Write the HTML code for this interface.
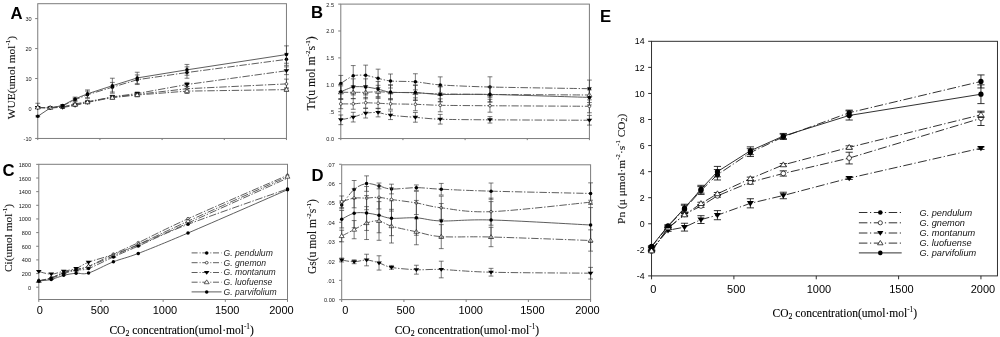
<!DOCTYPE html>
<html><head><meta charset="utf-8"><title>Figure</title>
<style>html,body{margin:0;padding:0;background:#fff;}body{width:1000px;height:337px;overflow:hidden;font-family:"Liberation Sans",sans-serif;}svg{display:block;will-change:transform;}</style></head>
<body>
<svg width="1000" height="337" viewBox="0 0 1000 337">
<rect width="1000" height="337" fill="#fff"/>
<rect x="37.75" y="3.7" width="248.7" height="134.75" fill="none" stroke="#7c7c7c" stroke-width="1"/>
<line x1="35.15" y1="138.45" x2="37.75" y2="138.45" stroke="#7c7c7c" stroke-width="1"/>
<line x1="35.15" y1="108.49" x2="37.75" y2="108.49" stroke="#7c7c7c" stroke-width="1"/>
<line x1="35.15" y1="78.53" x2="37.75" y2="78.53" stroke="#7c7c7c" stroke-width="1"/>
<line x1="35.15" y1="48.57" x2="37.75" y2="48.57" stroke="#7c7c7c" stroke-width="1"/>
<line x1="35.15" y1="18.61" x2="37.75" y2="18.61" stroke="#7c7c7c" stroke-width="1"/>
<line x1="37.75" y1="138.45" x2="37.75" y2="140.05" stroke="#7c7c7c" stroke-width="1"/>
<line x1="99.93" y1="138.45" x2="99.93" y2="140.05" stroke="#7c7c7c" stroke-width="1"/>
<line x1="162.1" y1="138.45" x2="162.1" y2="140.05" stroke="#7c7c7c" stroke-width="1"/>
<line x1="224.28" y1="138.45" x2="224.28" y2="140.05" stroke="#7c7c7c" stroke-width="1"/>
<line x1="286.45" y1="138.45" x2="286.45" y2="140.05" stroke="#7c7c7c" stroke-width="1"/>
<text x="31.6" y="140.95" font-family='"Liberation Sans", sans-serif' font-size="5.55" text-anchor="end" fill="#161616">-10</text>
<text x="31.6" y="110.99" font-family='"Liberation Sans", sans-serif' font-size="5.55" text-anchor="end" fill="#161616">0</text>
<text x="31.6" y="81.03" font-family='"Liberation Sans", sans-serif' font-size="5.55" text-anchor="end" fill="#161616">10</text>
<text x="31.6" y="51.07" font-family='"Liberation Sans", sans-serif' font-size="5.55" text-anchor="end" fill="#161616">20</text>
<text x="31.6" y="21.11" font-family='"Liberation Sans", sans-serif' font-size="5.55" text-anchor="end" fill="#161616">30</text>
<path d="M37.75 107.44 L50.19 107.83 L62.62 105.79 L75.06 99.8 L87.49 94.71 L112.36 87.22 L137.23 79.73 L186.97 72.54 L286.45 59.36" fill="none" stroke="#4c4c4c" stroke-width="0.9" stroke-dasharray="7.4 1.7 1.4 1.7"/>
<path d="M37.75 106.54 V108.34 M35.35 106.54 H40.15 M35.35 108.34 H40.15" fill="none" stroke="#333" stroke-width="0.65"/>
<path d="M62.62 104.89 V106.69 M60.22 104.89 H65.02 M60.22 106.69 H65.02" fill="none" stroke="#333" stroke-width="0.65"/>
<path d="M75.06 98.3 V101.3 M72.66 98.3 H77.46 M72.66 101.3 H77.46" fill="none" stroke="#333" stroke-width="0.65"/>
<path d="M87.49 91.11 V98.3 M85.09 91.11 H89.89 M85.09 98.3 H89.89" fill="none" stroke="#333" stroke-width="0.65"/>
<path d="M112.36 82.42 V92.01 M109.96 82.42 H114.76 M109.96 92.01 H114.76" fill="none" stroke="#333" stroke-width="0.65"/>
<path d="M137.23 74.93 V84.52 M134.83 74.93 H139.63 M134.83 84.52 H139.63" fill="none" stroke="#333" stroke-width="0.65"/>
<path d="M186.97 66.85 V78.23 M184.57 66.85 H189.37 M184.57 78.23 H189.37" fill="none" stroke="#333" stroke-width="0.65"/>
<path d="M286.45 53.36 V65.35 M284.05 53.36 H288.85 M284.05 65.35 H288.85" fill="none" stroke="#333" stroke-width="0.65"/>
<circle cx="37.75" cy="107.44" r="1.75" fill="#000"/>
<circle cx="50.19" cy="107.83" r="1.75" fill="#000"/>
<circle cx="62.62" cy="105.79" r="1.75" fill="#000"/>
<circle cx="75.06" cy="99.8" r="1.75" fill="#000"/>
<circle cx="87.49" cy="94.71" r="1.75" fill="#000"/>
<circle cx="112.36" cy="87.22" r="1.75" fill="#000"/>
<circle cx="137.23" cy="79.73" r="1.75" fill="#000"/>
<circle cx="186.97" cy="72.54" r="1.75" fill="#000"/>
<circle cx="286.45" cy="59.36" r="1.75" fill="#000"/>
<path d="M37.75 107.59 L50.19 107.83 L62.62 106.99 L75.06 104 L87.49 101.6 L112.36 97.11 L137.23 94.41 L186.97 88.72 L286.45 83.92" fill="none" stroke="#4c4c4c" stroke-width="0.9" stroke-dasharray="7.4 1.7 1.4 1.7"/>
<path d="M37.75 106.69 V108.49 M35.35 106.69 H40.15 M35.35 108.49 H40.15" fill="none" stroke="#333" stroke-width="0.65"/>
<path d="M62.62 106.09 V107.89 M60.22 106.09 H65.02 M60.22 107.89 H65.02" fill="none" stroke="#333" stroke-width="0.65"/>
<path d="M75.06 103.1 V104.89 M72.66 103.1 H77.46 M72.66 104.89 H77.46" fill="none" stroke="#333" stroke-width="0.65"/>
<path d="M87.49 100.4 V102.8 M85.09 100.4 H89.89 M85.09 102.8 H89.89" fill="none" stroke="#333" stroke-width="0.65"/>
<path d="M112.36 95.61 V98.6 M109.96 95.61 H114.76 M109.96 98.6 H114.76" fill="none" stroke="#333" stroke-width="0.65"/>
<path d="M137.23 92.91 V95.91 M134.83 92.91 H139.63 M134.83 95.91 H139.63" fill="none" stroke="#333" stroke-width="0.65"/>
<path d="M186.97 86.32 V91.11 M184.57 86.32 H189.37 M184.57 91.11 H189.37" fill="none" stroke="#333" stroke-width="0.65"/>
<path d="M286.45 79.13 V88.72 M284.05 79.13 H288.85 M284.05 88.72 H288.85" fill="none" stroke="#333" stroke-width="0.65"/>
<circle cx="37.75" cy="107.59" r="1.36" fill="#fff" stroke="#000" stroke-width="0.6"/>
<circle cx="50.19" cy="107.83" r="1.36" fill="#fff" stroke="#000" stroke-width="0.6"/>
<circle cx="75.06" cy="104" r="1.36" fill="#fff" stroke="#000" stroke-width="0.6"/>
<circle cx="87.49" cy="101.6" r="1.36" fill="#fff" stroke="#000" stroke-width="0.6"/>
<circle cx="112.36" cy="97.11" r="1.36" fill="#fff" stroke="#000" stroke-width="0.6"/>
<circle cx="137.23" cy="94.41" r="1.36" fill="#fff" stroke="#000" stroke-width="0.6"/>
<circle cx="186.97" cy="88.72" r="1.36" fill="#fff" stroke="#000" stroke-width="0.6"/>
<circle cx="286.45" cy="83.92" r="1.36" fill="#fff" stroke="#000" stroke-width="0.6"/>
<path d="M37.75 107.59 L50.19 107.83 L62.62 107.44 L75.06 105.49 L87.49 102.5 L112.36 96.81 L137.23 93.51 L186.97 84.52 L286.45 70.74" fill="none" stroke="#4c4c4c" stroke-width="0.9" stroke-dasharray="7.4 1.7 1.4 1.7"/>
<path d="M37.75 106.69 V108.49 M35.35 106.69 H40.15 M35.35 108.49 H40.15" fill="none" stroke="#333" stroke-width="0.65"/>
<path d="M62.62 106.54 V108.34 M60.22 106.54 H65.02 M60.22 108.34 H65.02" fill="none" stroke="#333" stroke-width="0.65"/>
<path d="M75.06 104.6 V106.39 M72.66 104.6 H77.46 M72.66 106.39 H77.46" fill="none" stroke="#333" stroke-width="0.65"/>
<path d="M87.49 101.3 V103.7 M85.09 101.3 H89.89 M85.09 103.7 H89.89" fill="none" stroke="#333" stroke-width="0.65"/>
<path d="M112.36 95.31 V98.3 M109.96 95.31 H114.76 M109.96 98.3 H114.76" fill="none" stroke="#333" stroke-width="0.65"/>
<path d="M137.23 92.01 V95.01 M134.83 92.01 H139.63 M134.83 95.01 H139.63" fill="none" stroke="#333" stroke-width="0.65"/>
<path d="M186.97 82.42 V86.62 M184.57 82.42 H189.37 M184.57 86.62 H189.37" fill="none" stroke="#333" stroke-width="0.65"/>
<path d="M286.45 66.85 V74.64 M284.05 66.85 H288.85 M284.05 74.64 H288.85" fill="none" stroke="#333" stroke-width="0.65"/>
<path d="M34.91 106.1 L40.59 106.1 L37.75 109.87Z" fill="#000"/>
<path d="M47.35 106.34 L53.02 106.34 L50.19 110.11Z" fill="#000"/>
<path d="M59.79 105.95 L65.45 105.95 L62.62 109.72Z" fill="#000"/>
<path d="M72.22 104.01 L77.89 104.01 L75.06 107.77Z" fill="#000"/>
<path d="M84.66 101.01 L90.33 101.01 L87.49 104.77Z" fill="#000"/>
<path d="M109.53 95.32 L115.19 95.32 L112.36 99.08Z" fill="#000"/>
<path d="M134.4 92.02 L140.07 92.02 L137.23 95.78Z" fill="#000"/>
<path d="M184.13 83.03 L189.81 83.03 L186.97 86.8Z" fill="#000"/>
<path d="M283.62 69.25 L289.29 69.25 L286.45 73.02Z" fill="#000"/>
<path d="M37.75 107.44 L50.19 107.83 L62.62 107.14 L75.06 104.6 L87.49 102.2 L112.36 97.7 L137.23 95.01 L186.97 91.11 L286.45 89.62" fill="none" stroke="#4c4c4c" stroke-width="0.9" stroke-dasharray="7.4 1.7 1.4 1.7"/>
<path d="M37.75 103.25 V108.34 M35.35 103.25 H40.15 M35.35 108.34 H40.15" fill="none" stroke="#333" stroke-width="0.65"/>
<path d="M62.62 106.24 V108.04 M60.22 106.24 H65.02 M60.22 108.04 H65.02" fill="none" stroke="#333" stroke-width="0.65"/>
<path d="M75.06 103.4 V105.79 M72.66 103.4 H77.46 M72.66 105.79 H77.46" fill="none" stroke="#333" stroke-width="0.65"/>
<path d="M87.49 101 V103.4 M85.09 101 H89.89 M85.09 103.4 H89.89" fill="none" stroke="#333" stroke-width="0.65"/>
<path d="M112.36 96.21 V99.2 M109.96 96.21 H114.76 M109.96 99.2 H114.76" fill="none" stroke="#333" stroke-width="0.65"/>
<path d="M137.23 93.21 V96.81 M134.83 93.21 H139.63 M134.83 96.81 H139.63" fill="none" stroke="#333" stroke-width="0.65"/>
<path d="M186.97 88.72 V93.51 M184.57 88.72 H189.37 M184.57 93.51 H189.37" fill="none" stroke="#333" stroke-width="0.65"/>
<path d="M286.45 87.82 V91.41 M284.05 87.82 H288.85 M284.05 91.41 H288.85" fill="none" stroke="#333" stroke-width="0.65"/>
<path d="M35.27 108.98 L40.23 108.98 L37.75 105.08Z" fill="#fff" stroke="#000" stroke-width="0.6"/>
<path d="M47.7 109.37 L52.67 109.37 L50.19 105.47Z" fill="#fff" stroke="#000" stroke-width="0.6"/>
<path d="M72.57 106.14 L77.54 106.14 L75.06 102.23Z" fill="#fff" stroke="#000" stroke-width="0.6"/>
<path d="M85.01 103.74 L89.98 103.74 L87.49 99.84Z" fill="#fff" stroke="#000" stroke-width="0.6"/>
<path d="M109.88 99.25 L114.84 99.25 L112.36 95.34Z" fill="#fff" stroke="#000" stroke-width="0.6"/>
<path d="M134.75 96.55 L139.72 96.55 L137.23 92.65Z" fill="#fff" stroke="#000" stroke-width="0.6"/>
<path d="M184.48 92.65 L189.46 92.65 L186.97 88.75Z" fill="#fff" stroke="#000" stroke-width="0.6"/>
<path d="M283.97 91.16 L288.94 91.16 L286.45 87.25Z" fill="#fff" stroke="#000" stroke-width="0.6"/>
<path d="M37.75 116.28 L50.19 108.04 L62.62 105.49 L75.06 98.9 L87.49 93.81 L112.36 85.72 L137.23 77.93 L186.97 69.84 L286.45 54.56" fill="none" stroke="#4c4c4c" stroke-width="0.9"/>
<path d="M37.75 115.68 V116.88 M35.35 115.68 H40.15 M35.35 116.88 H40.15" fill="none" stroke="#333" stroke-width="0.65"/>
<path d="M62.62 104.6 V106.39 M60.22 104.6 H65.02 M60.22 106.39 H65.02" fill="none" stroke="#333" stroke-width="0.65"/>
<path d="M75.06 97.11 V100.7 M72.66 97.11 H77.46 M72.66 100.7 H77.46" fill="none" stroke="#333" stroke-width="0.65"/>
<path d="M87.49 89.91 V97.7 M85.09 89.91 H89.89 M85.09 97.7 H89.89" fill="none" stroke="#333" stroke-width="0.65"/>
<path d="M112.36 78.23 V93.21 M109.96 78.23 H114.76 M109.96 93.21 H114.76" fill="none" stroke="#333" stroke-width="0.65"/>
<path d="M137.23 72.24 V83.62 M134.83 72.24 H139.63 M134.83 83.62 H139.63" fill="none" stroke="#333" stroke-width="0.65"/>
<path d="M186.97 64.45 V75.23 M184.57 64.45 H189.37 M184.57 75.23 H189.37" fill="none" stroke="#333" stroke-width="0.65"/>
<path d="M286.45 45.87 V63.25 M284.05 45.87 H288.85 M284.05 63.25 H288.85" fill="none" stroke="#333" stroke-width="0.65"/>
<circle cx="37.75" cy="116.28" r="1.75" fill="#000"/>
<circle cx="62.62" cy="105.49" r="1.75" fill="#000"/>
<circle cx="75.06" cy="98.9" r="1.75" fill="#000"/>
<circle cx="87.49" cy="93.81" r="1.75" fill="#000"/>
<circle cx="112.36" cy="85.72" r="1.75" fill="#000"/>
<circle cx="137.23" cy="77.93" r="1.75" fill="#000"/>
<circle cx="186.97" cy="69.84" r="1.75" fill="#000"/>
<circle cx="286.45" cy="54.56" r="1.75" fill="#000"/>
<rect x="340.8" y="4.1" width="248.6" height="134.45" fill="none" stroke="#7c7c7c" stroke-width="1"/>
<line x1="338.2" y1="138.55" x2="340.8" y2="138.55" stroke="#7c7c7c" stroke-width="1"/>
<line x1="338.2" y1="111.66" x2="340.8" y2="111.66" stroke="#7c7c7c" stroke-width="1"/>
<line x1="338.2" y1="84.77" x2="340.8" y2="84.77" stroke="#7c7c7c" stroke-width="1"/>
<line x1="338.2" y1="57.88" x2="340.8" y2="57.88" stroke="#7c7c7c" stroke-width="1"/>
<line x1="338.2" y1="30.99" x2="340.8" y2="30.99" stroke="#7c7c7c" stroke-width="1"/>
<line x1="338.2" y1="4.1" x2="340.8" y2="4.1" stroke="#7c7c7c" stroke-width="1"/>
<line x1="340.8" y1="138.55" x2="340.8" y2="140.15" stroke="#7c7c7c" stroke-width="1"/>
<line x1="402.95" y1="138.55" x2="402.95" y2="140.15" stroke="#7c7c7c" stroke-width="1"/>
<line x1="465.1" y1="138.55" x2="465.1" y2="140.15" stroke="#7c7c7c" stroke-width="1"/>
<line x1="527.25" y1="138.55" x2="527.25" y2="140.15" stroke="#7c7c7c" stroke-width="1"/>
<line x1="589.4" y1="138.55" x2="589.4" y2="140.15" stroke="#7c7c7c" stroke-width="1"/>
<text x="334" y="141.05" font-family='"Liberation Sans", sans-serif' font-size="5.55" text-anchor="end" fill="#161616">0.0</text>
<text x="334" y="114.16" font-family='"Liberation Sans", sans-serif' font-size="5.55" text-anchor="end" fill="#161616">.5</text>
<text x="334" y="87.27" font-family='"Liberation Sans", sans-serif' font-size="5.55" text-anchor="end" fill="#161616">1.0</text>
<text x="334" y="60.38" font-family='"Liberation Sans", sans-serif' font-size="5.55" text-anchor="end" fill="#161616">1.5</text>
<text x="334" y="33.49" font-family='"Liberation Sans", sans-serif' font-size="5.55" text-anchor="end" fill="#161616">2.0</text>
<text x="334" y="6.6" font-family='"Liberation Sans", sans-serif' font-size="5.55" text-anchor="end" fill="#161616">2.5</text>
<path d="M340.8 83.48 C342.25 82.58 350.33 76.74 353.23 75.79 C356.13 74.84 362.76 75.06 365.66 75.36 C368.56 75.65 375.19 77.66 378.09 78.32 C380.99 78.98 386.17 80.6 390.52 81.01 C394.87 81.41 409.58 81.35 415.38 81.81 C421.18 82.27 431.54 84.32 440.24 84.93 C448.94 85.54 472.56 86.59 489.96 87.03 C507.36 87.47 577.8 88.5 589.4 88.7" fill="none" stroke="#4c4c4c" stroke-width="0.9" stroke-dasharray="7.4 1.7 1.4 1.7"/>
<path d="M340.8 75.41 V91.55 M338.4 75.41 H343.2 M338.4 91.55 H343.2" fill="none" stroke="#333" stroke-width="0.65"/>
<path d="M353.23 65.57 V86.01 M350.83 65.57 H355.63 M350.83 86.01 H355.63" fill="none" stroke="#333" stroke-width="0.65"/>
<path d="M365.66 65.14 V85.58 M363.26 65.14 H368.06 M363.26 85.58 H368.06" fill="none" stroke="#333" stroke-width="0.65"/>
<path d="M378.09 69.17 V87.46 M375.69 69.17 H380.49 M375.69 87.46 H380.49" fill="none" stroke="#333" stroke-width="0.65"/>
<path d="M390.52 74.01 V88 M388.12 74.01 H392.92 M388.12 88 H392.92" fill="none" stroke="#333" stroke-width="0.65"/>
<path d="M415.38 73.75 V89.88 M412.98 73.75 H417.78 M412.98 89.88 H417.78" fill="none" stroke="#333" stroke-width="0.65"/>
<path d="M440.24 76.86 V93 M437.84 76.86 H442.64 M437.84 93 H442.64" fill="none" stroke="#333" stroke-width="0.65"/>
<path d="M489.96 76.81 V97.25 M487.56 76.81 H492.36 M487.56 97.25 H492.36" fill="none" stroke="#333" stroke-width="0.65"/>
<path d="M589.4 80.09 V97.3 M587 80.09 H591.8 M587 97.3 H591.8" fill="none" stroke="#333" stroke-width="0.65"/>
<circle cx="340.8" cy="83.48" r="1.75" fill="#000"/>
<circle cx="353.23" cy="75.79" r="1.75" fill="#000"/>
<circle cx="365.66" cy="75.36" r="1.75" fill="#000"/>
<circle cx="378.09" cy="78.32" r="1.75" fill="#000"/>
<circle cx="390.52" cy="81.01" r="1.75" fill="#000"/>
<circle cx="415.38" cy="81.81" r="1.75" fill="#000"/>
<circle cx="440.24" cy="84.93" r="1.75" fill="#000"/>
<circle cx="489.96" cy="87.03" r="1.75" fill="#000"/>
<circle cx="589.4" cy="88.7" r="1.75" fill="#000"/>
<path d="M340.8 103.86 C342.25 103.86 350.33 103.99 353.23 103.86 C356.13 103.74 362.76 102.86 365.66 102.79 C368.56 102.71 375.19 103.09 378.09 103.22 C380.99 103.34 386.17 103.74 390.52 103.86 C394.87 103.99 409.58 104.12 415.38 104.29 C421.18 104.46 431.54 105.14 440.24 105.31 C448.94 105.48 472.56 105.63 489.96 105.74 C507.36 105.86 577.8 106.22 589.4 106.28" fill="none" stroke="#4c4c4c" stroke-width="0.9" stroke-dasharray="7.4 1.7 1.4 1.7"/>
<path d="M340.8 99.02 V108.7 M338.4 99.02 H343.2 M338.4 108.7 H343.2" fill="none" stroke="#333" stroke-width="0.65"/>
<path d="M353.23 98.48 V109.24 M350.83 98.48 H355.63 M350.83 109.24 H355.63" fill="none" stroke="#333" stroke-width="0.65"/>
<path d="M365.66 97.41 V108.16 M363.26 97.41 H368.06 M363.26 108.16 H368.06" fill="none" stroke="#333" stroke-width="0.65"/>
<path d="M378.09 97.84 V108.59 M375.69 97.84 H380.49 M375.69 108.59 H380.49" fill="none" stroke="#333" stroke-width="0.65"/>
<path d="M390.52 98.48 V109.24 M388.12 98.48 H392.92 M388.12 109.24 H392.92" fill="none" stroke="#333" stroke-width="0.65"/>
<path d="M415.38 97.84 V110.75 M412.98 97.84 H417.78 M412.98 110.75 H417.78" fill="none" stroke="#333" stroke-width="0.65"/>
<path d="M440.24 98.86 V111.77 M437.84 98.86 H442.64 M437.84 111.77 H442.64" fill="none" stroke="#333" stroke-width="0.65"/>
<path d="M489.96 99.29 V112.2 M487.56 99.29 H492.36 M487.56 112.2 H492.36" fill="none" stroke="#333" stroke-width="0.65"/>
<path d="M589.4 99.83 V112.74 M587 99.83 H591.8 M587 112.74 H591.8" fill="none" stroke="#333" stroke-width="0.65"/>
<circle cx="340.8" cy="103.86" r="1.36" fill="#fff" stroke="#000" stroke-width="0.6"/>
<circle cx="353.23" cy="103.86" r="1.36" fill="#fff" stroke="#000" stroke-width="0.6"/>
<circle cx="365.66" cy="102.79" r="1.36" fill="#fff" stroke="#000" stroke-width="0.6"/>
<circle cx="378.09" cy="103.22" r="1.36" fill="#fff" stroke="#000" stroke-width="0.6"/>
<circle cx="390.52" cy="103.86" r="1.36" fill="#fff" stroke="#000" stroke-width="0.6"/>
<circle cx="415.38" cy="104.29" r="1.36" fill="#fff" stroke="#000" stroke-width="0.6"/>
<circle cx="440.24" cy="105.31" r="1.36" fill="#fff" stroke="#000" stroke-width="0.6"/>
<circle cx="489.96" cy="105.74" r="1.36" fill="#fff" stroke="#000" stroke-width="0.6"/>
<circle cx="589.4" cy="106.28" r="1.36" fill="#fff" stroke="#000" stroke-width="0.6"/>
<path d="M340.8 119.83 C342.25 119.52 350.33 117.92 353.23 117.15 C356.13 116.37 362.76 113.7 365.66 113.17 C368.56 112.63 375.19 112.33 378.09 112.57 C380.99 112.82 386.17 114.7 390.52 115.26 C394.87 115.82 409.58 116.9 415.38 117.36 C421.18 117.82 431.54 118.95 440.24 119.24 C448.94 119.53 472.56 119.72 489.96 119.83 C507.36 119.95 577.8 120.21 589.4 120.26" fill="none" stroke="#4c4c4c" stroke-width="0.9" stroke-dasharray="7.4 1.7 1.4 1.7"/>
<path d="M340.8 114.99 V124.67 M338.4 114.99 H343.2 M338.4 124.67 H343.2" fill="none" stroke="#333" stroke-width="0.65"/>
<path d="M353.23 112.31 V121.99 M350.83 112.31 H355.63 M350.83 121.99 H355.63" fill="none" stroke="#333" stroke-width="0.65"/>
<path d="M365.66 108.33 V118.01 M363.26 108.33 H368.06 M363.26 118.01 H368.06" fill="none" stroke="#333" stroke-width="0.65"/>
<path d="M378.09 108.27 V116.88 M375.69 108.27 H380.49 M375.69 116.88 H380.49" fill="none" stroke="#333" stroke-width="0.65"/>
<path d="M390.52 110.96 V119.57 M388.12 110.96 H392.92 M388.12 119.57 H392.92" fill="none" stroke="#333" stroke-width="0.65"/>
<path d="M415.38 112.52 V122.2 M412.98 112.52 H417.78 M412.98 122.2 H417.78" fill="none" stroke="#333" stroke-width="0.65"/>
<path d="M440.24 114.4 V124.08 M437.84 114.4 H442.64 M437.84 124.08 H442.64" fill="none" stroke="#333" stroke-width="0.65"/>
<path d="M489.96 116.61 V123.06 M487.56 116.61 H492.36 M487.56 123.06 H492.36" fill="none" stroke="#333" stroke-width="0.65"/>
<path d="M589.4 115.42 V125.11 M587 115.42 H591.8 M587 125.11 H591.8" fill="none" stroke="#333" stroke-width="0.65"/>
<path d="M337.97 118.35 L343.63 118.35 L340.8 122.11Z" fill="#000"/>
<path d="M350.4 115.66 L356.06 115.66 L353.23 119.42Z" fill="#000"/>
<path d="M362.83 111.68 L368.5 111.68 L365.66 115.44Z" fill="#000"/>
<path d="M375.26 111.09 L380.93 111.09 L378.09 114.85Z" fill="#000"/>
<path d="M387.69 113.78 L393.35 113.78 L390.52 117.54Z" fill="#000"/>
<path d="M412.55 115.87 L418.21 115.87 L415.38 119.64Z" fill="#000"/>
<path d="M437.41 117.76 L443.07 117.76 L440.24 121.52Z" fill="#000"/>
<path d="M487.13 118.35 L492.8 118.35 L489.96 122.11Z" fill="#000"/>
<path d="M586.56 118.78 L592.24 118.78 L589.4 122.54Z" fill="#000"/>
<path d="M340.8 92.3 C342.25 92.3 350.33 92.3 353.23 92.3 C356.13 92.3 362.76 92.36 365.66 92.3 C368.56 92.24 375.19 91.76 378.09 91.76 C380.99 91.76 386.17 92.17 390.52 92.3 C394.87 92.42 409.58 92.65 415.38 92.84 C421.18 93.03 431.54 93.72 440.24 93.91 C448.94 94.1 472.56 94.32 489.96 94.45 C507.36 94.58 577.8 94.93 589.4 94.99" fill="none" stroke="#4c4c4c" stroke-width="0.9" stroke-dasharray="7.4 1.7 1.4 1.7"/>
<path d="M340.8 85.85 V98.75 M338.4 85.85 H343.2 M338.4 98.75 H343.2" fill="none" stroke="#333" stroke-width="0.65"/>
<path d="M353.23 85.85 V98.75 M350.83 85.85 H355.63 M350.83 98.75 H355.63" fill="none" stroke="#333" stroke-width="0.65"/>
<path d="M365.66 85.85 V98.75 M363.26 85.85 H368.06 M363.26 98.75 H368.06" fill="none" stroke="#333" stroke-width="0.65"/>
<path d="M378.09 85.31 V98.22 M375.69 85.31 H380.49 M375.69 98.22 H380.49" fill="none" stroke="#333" stroke-width="0.65"/>
<path d="M390.52 85.31 V99.29 M388.12 85.31 H392.92 M388.12 99.29 H392.92" fill="none" stroke="#333" stroke-width="0.65"/>
<path d="M415.38 85.31 V100.37 M412.98 85.31 H417.78 M412.98 100.37 H417.78" fill="none" stroke="#333" stroke-width="0.65"/>
<path d="M440.24 86.38 V101.44 M437.84 86.38 H442.64 M437.84 101.44 H442.64" fill="none" stroke="#333" stroke-width="0.65"/>
<path d="M489.96 86.92 V101.98 M487.56 86.92 H492.36 M487.56 101.98 H492.36" fill="none" stroke="#333" stroke-width="0.65"/>
<path d="M589.4 87.46 V102.52 M587 87.46 H591.8 M587 102.52 H591.8" fill="none" stroke="#333" stroke-width="0.65"/>
<path d="M338.31 93.84 L343.29 93.84 L340.8 89.94Z" fill="#fff" stroke="#000" stroke-width="0.6"/>
<path d="M350.75 93.84 L355.72 93.84 L353.23 89.94Z" fill="#fff" stroke="#000" stroke-width="0.6"/>
<path d="M363.18 93.84 L368.15 93.84 L365.66 89.94Z" fill="#fff" stroke="#000" stroke-width="0.6"/>
<path d="M375.61 93.3 L380.58 93.3 L378.09 89.4Z" fill="#fff" stroke="#000" stroke-width="0.6"/>
<path d="M388.03 93.84 L393 93.84 L390.52 89.94Z" fill="#fff" stroke="#000" stroke-width="0.6"/>
<path d="M412.89 94.38 L417.87 94.38 L415.38 90.48Z" fill="#fff" stroke="#000" stroke-width="0.6"/>
<path d="M437.75 95.45 L442.73 95.45 L440.24 91.55Z" fill="#fff" stroke="#000" stroke-width="0.6"/>
<path d="M487.48 95.99 L492.45 95.99 L489.96 92.09Z" fill="#fff" stroke="#000" stroke-width="0.6"/>
<path d="M586.91 96.53 L591.88 96.53 L589.4 92.63Z" fill="#fff" stroke="#000" stroke-width="0.6"/>
<path d="M340.8 91.76 C342.25 91.2 350.33 87.49 353.23 86.92 C356.13 86.36 362.76 86.67 365.66 86.92 C368.56 87.17 375.19 88.44 378.09 89.07 C380.99 89.7 386.17 91.89 390.52 92.3 C394.87 92.71 409.58 92.32 415.38 92.57 C421.18 92.82 431.54 94.23 440.24 94.45 C448.94 94.67 472.56 94.11 489.96 94.45 C507.36 94.8 577.8 97.06 589.4 97.41" fill="none" stroke="#4c4c4c" stroke-width="0.9"/>
<path d="M340.8 84.23 V99.29 M338.4 84.23 H343.2 M338.4 99.29 H343.2" fill="none" stroke="#333" stroke-width="0.65"/>
<path d="M353.23 78.85 V94.99 M350.83 78.85 H355.63 M350.83 94.99 H355.63" fill="none" stroke="#333" stroke-width="0.65"/>
<path d="M365.66 78.85 V94.99 M363.26 78.85 H368.06 M363.26 94.99 H368.06" fill="none" stroke="#333" stroke-width="0.65"/>
<path d="M378.09 81.54 V96.6 M375.69 81.54 H380.49 M375.69 96.6 H380.49" fill="none" stroke="#333" stroke-width="0.65"/>
<path d="M390.52 84.77 V99.83 M388.12 84.77 H392.92 M388.12 99.83 H392.92" fill="none" stroke="#333" stroke-width="0.65"/>
<path d="M415.38 85.04 V100.1 M412.98 85.04 H417.78 M412.98 100.1 H417.78" fill="none" stroke="#333" stroke-width="0.65"/>
<path d="M440.24 86.92 V101.98 M437.84 86.92 H442.64 M437.84 101.98 H442.64" fill="none" stroke="#333" stroke-width="0.65"/>
<path d="M489.96 86.92 V101.98 M487.56 86.92 H492.36 M487.56 101.98 H492.36" fill="none" stroke="#333" stroke-width="0.65"/>
<path d="M589.4 89.88 V104.94 M587 89.88 H591.8 M587 104.94 H591.8" fill="none" stroke="#333" stroke-width="0.65"/>
<circle cx="340.8" cy="91.76" r="1.75" fill="#000"/>
<circle cx="353.23" cy="86.92" r="1.75" fill="#000"/>
<circle cx="365.66" cy="86.92" r="1.75" fill="#000"/>
<circle cx="378.09" cy="89.07" r="1.75" fill="#000"/>
<circle cx="390.52" cy="92.3" r="1.75" fill="#000"/>
<circle cx="415.38" cy="92.57" r="1.75" fill="#000"/>
<circle cx="440.24" cy="94.45" r="1.75" fill="#000"/>
<circle cx="489.96" cy="94.45" r="1.75" fill="#000"/>
<circle cx="589.4" cy="97.41" r="1.75" fill="#000"/>
<rect x="38.8" y="164.3" width="248.7" height="135.2" fill="none" stroke="#7c7c7c" stroke-width="1"/>
<line x1="36.2" y1="287.2" x2="38.8" y2="287.2" stroke="#7c7c7c" stroke-width="1"/>
<line x1="36.2" y1="273.55" x2="38.8" y2="273.55" stroke="#7c7c7c" stroke-width="1"/>
<line x1="36.2" y1="259.9" x2="38.8" y2="259.9" stroke="#7c7c7c" stroke-width="1"/>
<line x1="36.2" y1="246.25" x2="38.8" y2="246.25" stroke="#7c7c7c" stroke-width="1"/>
<line x1="36.2" y1="232.6" x2="38.8" y2="232.6" stroke="#7c7c7c" stroke-width="1"/>
<line x1="36.2" y1="218.95" x2="38.8" y2="218.95" stroke="#7c7c7c" stroke-width="1"/>
<line x1="36.2" y1="205.3" x2="38.8" y2="205.3" stroke="#7c7c7c" stroke-width="1"/>
<line x1="36.2" y1="191.65" x2="38.8" y2="191.65" stroke="#7c7c7c" stroke-width="1"/>
<line x1="36.2" y1="178" x2="38.8" y2="178" stroke="#7c7c7c" stroke-width="1"/>
<line x1="36.2" y1="164.35" x2="38.8" y2="164.35" stroke="#7c7c7c" stroke-width="1"/>
<line x1="38.8" y1="299.5" x2="38.8" y2="301.9" stroke="#7c7c7c" stroke-width="1"/>
<line x1="100.97" y1="299.5" x2="100.97" y2="301.9" stroke="#7c7c7c" stroke-width="1"/>
<line x1="163.15" y1="299.5" x2="163.15" y2="301.9" stroke="#7c7c7c" stroke-width="1"/>
<line x1="225.32" y1="299.5" x2="225.32" y2="301.9" stroke="#7c7c7c" stroke-width="1"/>
<line x1="287.5" y1="299.5" x2="287.5" y2="301.9" stroke="#7c7c7c" stroke-width="1"/>
<text x="31" y="289.7" font-family='"Liberation Sans", sans-serif' font-size="5.55" text-anchor="end" fill="#161616">0</text>
<text x="31" y="276.05" font-family='"Liberation Sans", sans-serif' font-size="5.55" text-anchor="end" fill="#161616">200</text>
<text x="31" y="262.4" font-family='"Liberation Sans", sans-serif' font-size="5.55" text-anchor="end" fill="#161616">400</text>
<text x="31" y="248.75" font-family='"Liberation Sans", sans-serif' font-size="5.55" text-anchor="end" fill="#161616">600</text>
<text x="31" y="235.1" font-family='"Liberation Sans", sans-serif' font-size="5.55" text-anchor="end" fill="#161616">800</text>
<text x="31" y="221.45" font-family='"Liberation Sans", sans-serif' font-size="5.55" text-anchor="end" fill="#161616">1000</text>
<text x="31" y="207.8" font-family='"Liberation Sans", sans-serif' font-size="5.55" text-anchor="end" fill="#161616">1200</text>
<text x="31" y="194.15" font-family='"Liberation Sans", sans-serif' font-size="5.55" text-anchor="end" fill="#161616">1400</text>
<text x="31" y="180.5" font-family='"Liberation Sans", sans-serif' font-size="5.55" text-anchor="end" fill="#161616">1600</text>
<text x="31" y="166.85" font-family='"Liberation Sans", sans-serif' font-size="5.55" text-anchor="end" fill="#161616">1800</text>
<path d="M38.8 280.92 C40.87 280.4 47.09 279.17 51.23 277.78 C55.38 276.39 59.53 273.97 63.67 272.59 C67.81 271.22 71.96 270.56 76.1 269.52 C80.25 268.49 82.32 268.95 88.54 266.38 C94.76 263.81 105.12 258.05 113.41 254.1 C121.7 250.15 125.84 248.59 138.28 242.7 C150.72 236.81 163.15 229.98 188.02 218.75 C212.89 207.51 270.92 182.52 287.5 175.27" fill="none" stroke="#4c4c4c" stroke-width="0.9" stroke-dasharray="7.4 1.7 1.4 1.7"/>
<circle cx="38.8" cy="280.92" r="1.36" fill="#fff" stroke="#000" stroke-width="0.6"/>
<circle cx="51.23" cy="277.78" r="1.36" fill="#fff" stroke="#000" stroke-width="0.6"/>
<circle cx="63.67" cy="272.59" r="1.36" fill="#fff" stroke="#000" stroke-width="0.6"/>
<circle cx="76.1" cy="269.52" r="1.36" fill="#fff" stroke="#000" stroke-width="0.6"/>
<circle cx="88.54" cy="266.38" r="1.36" fill="#fff" stroke="#000" stroke-width="0.6"/>
<circle cx="113.41" cy="254.1" r="1.36" fill="#fff" stroke="#000" stroke-width="0.6"/>
<circle cx="138.28" cy="242.7" r="1.36" fill="#fff" stroke="#000" stroke-width="0.6"/>
<circle cx="188.02" cy="218.75" r="1.36" fill="#fff" stroke="#000" stroke-width="0.6"/>
<circle cx="287.5" cy="175.27" r="1.36" fill="#fff" stroke="#000" stroke-width="0.6"/>
<path d="M38.8 280.92 C40.87 280.43 47.09 279.37 51.23 277.99 C55.38 276.6 59.53 274 63.67 272.59 C67.81 271.18 71.96 270.56 76.1 269.52 C80.25 268.49 82.32 268.67 88.54 266.38 C94.76 264.1 105.12 259.44 113.41 255.8 C121.7 252.16 125.84 250.31 138.28 244.54 C150.72 238.78 163.15 232.52 188.02 221.2 C212.89 209.88 270.92 184.06 287.5 176.63" fill="none" stroke="#4c4c4c" stroke-width="0.9" stroke-dasharray="7.4 1.7 1.4 1.7"/>
<path d="M36.31 282.46 L41.28 282.46 L38.8 278.56Z" fill="#fff" stroke="#000" stroke-width="0.6"/>
<path d="M48.75 279.53 L53.72 279.53 L51.23 275.63Z" fill="#fff" stroke="#000" stroke-width="0.6"/>
<path d="M61.19 274.14 L66.16 274.14 L63.67 270.23Z" fill="#fff" stroke="#000" stroke-width="0.6"/>
<path d="M73.62 271.06 L78.59 271.06 L76.1 267.16Z" fill="#fff" stroke="#000" stroke-width="0.6"/>
<path d="M86.05 267.92 L91.02 267.92 L88.54 264.02Z" fill="#fff" stroke="#000" stroke-width="0.6"/>
<path d="M110.92 257.35 L115.89 257.35 L113.41 253.44Z" fill="#fff" stroke="#000" stroke-width="0.6"/>
<path d="M135.79 246.08 L140.77 246.08 L138.28 242.18Z" fill="#fff" stroke="#000" stroke-width="0.6"/>
<path d="M185.53 222.74 L190.5 222.74 L188.02 218.84Z" fill="#fff" stroke="#000" stroke-width="0.6"/>
<path d="M285.01 178.18 L289.99 178.18 L287.5 174.27Z" fill="#fff" stroke="#000" stroke-width="0.6"/>
<path d="M38.8 271.57 C40.87 271.99 47.09 274.16 51.23 274.1 C55.38 274.03 59.53 272.09 63.67 271.16 C67.81 270.23 71.96 269.99 76.1 268.5 C80.25 267.01 82.32 264.56 88.54 262.22 C94.76 259.88 105.12 257.35 113.41 254.44 C121.7 251.53 125.84 249.98 138.28 244.75 C150.72 239.52 163.15 234.15 188.02 223.04 C212.89 211.94 270.92 185.62 287.5 178.14" fill="none" stroke="#4c4c4c" stroke-width="0.9" stroke-dasharray="7.4 1.7 1.4 1.7"/>
<path d="M35.96 270.08 L41.63 270.08 L38.8 273.85Z" fill="#000"/>
<path d="M48.4 272.61 L54.07 272.61 L51.23 276.37Z" fill="#000"/>
<path d="M60.84 269.67 L66.5 269.67 L63.67 273.44Z" fill="#000"/>
<path d="M73.27 267.01 L78.94 267.01 L76.1 270.77Z" fill="#000"/>
<path d="M85.7 260.73 L91.37 260.73 L88.54 264.5Z" fill="#000"/>
<path d="M38.8 280.92 C40.87 280.49 47.09 279.56 51.23 278.33 C55.38 277.1 59.53 274.92 63.67 273.55 C67.81 272.19 71.96 270.98 76.1 270.14 C80.25 269.3 82.32 270.69 88.54 268.5 C94.76 266.3 105.12 260.7 113.41 256.97 C121.7 253.23 125.84 251.55 138.28 246.11 C150.72 240.68 163.15 233.87 188.02 224.34 C212.89 214.81 270.92 194.82 287.5 188.92" fill="none" stroke="#4c4c4c" stroke-width="0.9" stroke-dasharray="7.4 1.7 1.4 1.7"/>
<circle cx="38.8" cy="280.92" r="1.75" fill="#000"/>
<circle cx="51.23" cy="278.33" r="1.75" fill="#000"/>
<circle cx="63.67" cy="273.55" r="1.75" fill="#000"/>
<circle cx="76.1" cy="270.14" r="1.75" fill="#000"/>
<circle cx="88.54" cy="268.5" r="1.75" fill="#000"/>
<circle cx="113.41" cy="256.97" r="1.75" fill="#000"/>
<circle cx="138.28" cy="246.11" r="1.75" fill="#000"/>
<circle cx="188.02" cy="224.34" r="1.75" fill="#000"/>
<circle cx="287.5" cy="188.92" r="1.75" fill="#000"/>
<path d="M38.8 280.92 C40.87 280.68 47.09 280.42 51.23 279.49 C55.38 278.56 59.53 276.37 63.67 275.32 C67.81 274.28 71.96 273.6 76.1 273.21 C80.25 272.82 82.32 274.9 88.54 273 C94.76 271.1 105.12 265.08 113.41 261.81 C121.7 258.55 125.84 258.22 138.28 253.42 C150.72 248.62 163.15 243.62 188.02 233.01 C212.89 222.4 270.92 196.95 287.5 189.74" fill="none" stroke="#4c4c4c" stroke-width="0.9"/>
<circle cx="38.8" cy="280.92" r="1.75" fill="#000"/>
<circle cx="51.23" cy="279.49" r="1.75" fill="#000"/>
<circle cx="63.67" cy="275.32" r="1.75" fill="#000"/>
<circle cx="76.1" cy="273.21" r="1.75" fill="#000"/>
<circle cx="88.54" cy="273" r="1.75" fill="#000"/>
<circle cx="113.41" cy="261.81" r="1.75" fill="#000"/>
<circle cx="138.28" cy="253.42" r="1.75" fill="#000"/>
<circle cx="188.02" cy="233.01" r="1.75" fill="#000"/>
<circle cx="287.5" cy="189.74" r="1.75" fill="#000"/>
<rect x="341.7" y="164.8" width="248.9" height="134.8" fill="none" stroke="#7c7c7c" stroke-width="1"/>
<line x1="339.1" y1="299.7" x2="341.7" y2="299.7" stroke="#7c7c7c" stroke-width="1"/>
<line x1="339.1" y1="280.35" x2="341.7" y2="280.35" stroke="#7c7c7c" stroke-width="1"/>
<line x1="339.1" y1="261" x2="341.7" y2="261" stroke="#7c7c7c" stroke-width="1"/>
<line x1="339.1" y1="241.65" x2="341.7" y2="241.65" stroke="#7c7c7c" stroke-width="1"/>
<line x1="339.1" y1="222.3" x2="341.7" y2="222.3" stroke="#7c7c7c" stroke-width="1"/>
<line x1="339.1" y1="202.95" x2="341.7" y2="202.95" stroke="#7c7c7c" stroke-width="1"/>
<line x1="339.1" y1="183.6" x2="341.7" y2="183.6" stroke="#7c7c7c" stroke-width="1"/>
<line x1="339.1" y1="164.25" x2="341.7" y2="164.25" stroke="#7c7c7c" stroke-width="1"/>
<line x1="341.7" y1="299.6" x2="341.7" y2="302" stroke="#7c7c7c" stroke-width="1"/>
<line x1="403.93" y1="299.6" x2="403.93" y2="302" stroke="#7c7c7c" stroke-width="1"/>
<line x1="466.15" y1="299.6" x2="466.15" y2="302" stroke="#7c7c7c" stroke-width="1"/>
<line x1="528.38" y1="299.6" x2="528.38" y2="302" stroke="#7c7c7c" stroke-width="1"/>
<line x1="590.6" y1="299.6" x2="590.6" y2="302" stroke="#7c7c7c" stroke-width="1"/>
<text x="334.8" y="302.2" font-family='"Liberation Sans", sans-serif' font-size="5.55" text-anchor="end" fill="#161616">0.00</text>
<text x="334.8" y="282.85" font-family='"Liberation Sans", sans-serif' font-size="5.55" text-anchor="end" fill="#161616">.01</text>
<text x="334.8" y="263.5" font-family='"Liberation Sans", sans-serif' font-size="5.55" text-anchor="end" fill="#161616">.02</text>
<text x="334.8" y="244.15" font-family='"Liberation Sans", sans-serif' font-size="5.55" text-anchor="end" fill="#161616">.03</text>
<text x="334.8" y="224.8" font-family='"Liberation Sans", sans-serif' font-size="5.55" text-anchor="end" fill="#161616">.04</text>
<text x="334.8" y="205.45" font-family='"Liberation Sans", sans-serif' font-size="5.55" text-anchor="end" fill="#161616">.05</text>
<text x="334.8" y="186.1" font-family='"Liberation Sans", sans-serif' font-size="5.55" text-anchor="end" fill="#161616">.06</text>
<text x="334.8" y="166.75" font-family='"Liberation Sans", sans-serif' font-size="5.55" text-anchor="end" fill="#161616">.07</text>
<path d="M341.7 204.88 C343.77 202.3 350 192.95 354.14 189.4 C358.29 185.86 362.44 184.18 366.59 183.6 C370.74 183.02 374.89 185.02 379.03 185.92 C383.18 186.82 385.26 188.73 391.48 189.02 C397.7 189.31 408.07 187.63 416.37 187.66 C424.67 187.7 428.81 188.63 441.26 189.21 C453.7 189.79 466.15 190.44 491.04 191.15 C515.93 191.86 574.01 193.08 590.6 193.47" fill="none" stroke="#4c4c4c" stroke-width="0.9" stroke-dasharray="7.4 1.7 1.4 1.7"/>
<path d="M341.7 201.01 V208.75 M339.3 201.01 H344.1 M339.3 208.75 H344.1" fill="none" stroke="#333" stroke-width="0.65"/>
<path d="M354.14 180.5 V198.31 M351.75 180.5 H356.54 M351.75 198.31 H356.54" fill="none" stroke="#333" stroke-width="0.65"/>
<path d="M366.59 175.86 V191.34 M364.19 175.86 H368.99 M364.19 191.34 H368.99" fill="none" stroke="#333" stroke-width="0.65"/>
<path d="M379.03 183.02 V188.82 M376.63 183.02 H381.43 M376.63 188.82 H381.43" fill="none" stroke="#333" stroke-width="0.65"/>
<path d="M391.48 184.18 V193.86 M389.08 184.18 H393.88 M389.08 193.86 H393.88" fill="none" stroke="#333" stroke-width="0.65"/>
<path d="M416.37 184.95 V190.37 M413.97 184.95 H418.77 M413.97 190.37 H418.77" fill="none" stroke="#333" stroke-width="0.65"/>
<path d="M441.26 183.41 V195.02 M438.86 183.41 H443.66 M438.86 195.02 H443.66" fill="none" stroke="#333" stroke-width="0.65"/>
<path d="M491.04 183.02 V199.27 M488.64 183.02 H493.44 M488.64 199.27 H493.44" fill="none" stroke="#333" stroke-width="0.65"/>
<path d="M590.6 182.83 V204.11 M588.2 182.83 H593 M588.2 204.11 H593" fill="none" stroke="#333" stroke-width="0.65"/>
<circle cx="341.7" cy="204.88" r="1.75" fill="#000"/>
<circle cx="354.14" cy="189.4" r="1.75" fill="#000"/>
<circle cx="366.59" cy="183.6" r="1.75" fill="#000"/>
<circle cx="379.03" cy="185.92" r="1.75" fill="#000"/>
<circle cx="391.48" cy="189.02" r="1.75" fill="#000"/>
<circle cx="416.37" cy="187.66" r="1.75" fill="#000"/>
<circle cx="441.26" cy="189.21" r="1.75" fill="#000"/>
<circle cx="491.04" cy="191.15" r="1.75" fill="#000"/>
<circle cx="590.6" cy="193.47" r="1.75" fill="#000"/>
<path d="M341.7 201.79 C343.77 201.18 350 198.73 354.14 198.11 C358.29 197.5 362.44 198.24 366.59 198.11 C370.74 197.98 374.89 197.11 379.03 197.34 C383.18 197.56 385.26 198.53 391.48 199.47 C397.7 200.4 408.07 201.56 416.37 202.95 C424.67 204.34 428.81 206.34 441.26 207.79 C453.7 209.24 466.15 212.59 491.04 211.66 C515.93 210.72 574.01 203.76 590.6 202.18" fill="none" stroke="#4c4c4c" stroke-width="0.9" stroke-dasharray="7.4 1.7 1.4 1.7"/>
<path d="M341.7 195.98 V207.59 M339.3 195.98 H344.1 M339.3 207.59 H344.1" fill="none" stroke="#333" stroke-width="0.65"/>
<path d="M354.14 188.44 V207.79 M351.75 188.44 H356.54 M351.75 207.79 H356.54" fill="none" stroke="#333" stroke-width="0.65"/>
<path d="M366.59 186.5 V209.72 M364.19 186.5 H368.99 M364.19 209.72 H368.99" fill="none" stroke="#333" stroke-width="0.65"/>
<path d="M379.03 185.73 V208.95 M376.63 185.73 H381.43 M376.63 208.95 H381.43" fill="none" stroke="#333" stroke-width="0.65"/>
<path d="M391.48 187.86 V211.08 M389.08 187.86 H393.88 M389.08 211.08 H393.88" fill="none" stroke="#333" stroke-width="0.65"/>
<path d="M416.37 191.34 V214.56 M413.97 191.34 H418.77 M413.97 214.56 H418.77" fill="none" stroke="#333" stroke-width="0.65"/>
<path d="M441.26 196.18 V219.4 M438.86 196.18 H443.66 M438.86 219.4 H443.66" fill="none" stroke="#333" stroke-width="0.65"/>
<path d="M491.04 198.11 V225.2 M488.64 198.11 H493.44 M488.64 225.2 H493.44" fill="none" stroke="#333" stroke-width="0.65"/>
<path d="M590.6 200.24 V204.11 M588.2 200.24 H593 M588.2 204.11 H593" fill="none" stroke="#333" stroke-width="0.65"/>
<circle cx="341.7" cy="201.79" r="1.36" fill="#fff" stroke="#000" stroke-width="0.6"/>
<circle cx="354.14" cy="198.11" r="1.36" fill="#fff" stroke="#000" stroke-width="0.6"/>
<circle cx="366.59" cy="198.11" r="1.36" fill="#fff" stroke="#000" stroke-width="0.6"/>
<circle cx="379.03" cy="197.34" r="1.36" fill="#fff" stroke="#000" stroke-width="0.6"/>
<circle cx="391.48" cy="199.47" r="1.36" fill="#fff" stroke="#000" stroke-width="0.6"/>
<circle cx="416.37" cy="202.95" r="1.36" fill="#fff" stroke="#000" stroke-width="0.6"/>
<circle cx="441.26" cy="207.79" r="1.36" fill="#fff" stroke="#000" stroke-width="0.6"/>
<circle cx="491.04" cy="211.66" r="1.36" fill="#fff" stroke="#000" stroke-width="0.6"/>
<circle cx="590.6" cy="202.18" r="1.36" fill="#fff" stroke="#000" stroke-width="0.6"/>
<path d="M341.7 260.03 C343.77 260.32 350 261.77 354.14 261.77 C358.29 261.77 362.44 259.84 366.59 260.03 C370.74 260.23 374.89 261.71 379.03 262.94 C383.18 264.16 385.26 266.26 391.48 267.39 C397.7 268.51 408.07 269.35 416.37 269.71 C424.67 270.06 428.81 269.09 441.26 269.51 C453.7 269.93 466.15 271.61 491.04 272.22 C515.93 272.84 574.01 273.03 590.6 273.19" fill="none" stroke="#4c4c4c" stroke-width="0.9" stroke-dasharray="7.4 1.7 1.4 1.7"/>
<path d="M341.7 258.1 V261.97 M339.3 258.1 H344.1 M339.3 261.97 H344.1" fill="none" stroke="#333" stroke-width="0.65"/>
<path d="M354.14 259.84 V263.71 M351.75 259.84 H356.54 M351.75 263.71 H356.54" fill="none" stroke="#333" stroke-width="0.65"/>
<path d="M366.59 254.23 V265.84 M364.19 254.23 H368.99 M364.19 265.84 H368.99" fill="none" stroke="#333" stroke-width="0.65"/>
<path d="M379.03 255.78 V270.09 M376.63 255.78 H381.43 M376.63 270.09 H381.43" fill="none" stroke="#333" stroke-width="0.65"/>
<path d="M391.48 265.45 V269.32 M389.08 265.45 H393.88 M389.08 269.32 H393.88" fill="none" stroke="#333" stroke-width="0.65"/>
<path d="M416.37 265.26 V274.16 M413.97 265.26 H418.77 M413.97 274.16 H418.77" fill="none" stroke="#333" stroke-width="0.65"/>
<path d="M441.26 261.19 V277.83 M438.86 261.19 H443.66 M438.86 277.83 H443.66" fill="none" stroke="#333" stroke-width="0.65"/>
<path d="M491.04 268.35 V276.09 M488.64 268.35 H493.44 M488.64 276.09 H493.44" fill="none" stroke="#333" stroke-width="0.65"/>
<path d="M590.6 267.39 V279 M588.2 267.39 H593 M588.2 279 H593" fill="none" stroke="#333" stroke-width="0.65"/>
<path d="M338.87 258.54 L344.53 258.54 L341.7 262.31Z" fill="#000"/>
<path d="M351.31 260.29 L356.98 260.29 L354.14 264.05Z" fill="#000"/>
<path d="M363.75 258.54 L369.42 258.54 L366.59 262.31Z" fill="#000"/>
<path d="M376.2 261.45 L381.87 261.45 L379.03 265.21Z" fill="#000"/>
<path d="M388.65 265.9 L394.31 265.9 L391.48 269.66Z" fill="#000"/>
<path d="M413.54 268.22 L419.2 268.22 L416.37 271.98Z" fill="#000"/>
<path d="M438.43 268.03 L444.09 268.03 L441.26 271.79Z" fill="#000"/>
<path d="M488.2 270.74 L493.87 270.74 L491.04 274.5Z" fill="#000"/>
<path d="M587.76 271.7 L593.44 271.7 L590.6 275.47Z" fill="#000"/>
<path d="M341.7 236.04 C343.77 234.97 350 231.81 354.14 229.65 C358.29 227.49 362.44 224.53 366.59 223.07 C370.74 221.62 374.89 220.43 379.03 220.95 C383.18 221.46 385.26 224.36 391.48 226.17 C397.7 227.98 408.07 230.04 416.37 231.78 C424.67 233.52 428.81 235.75 441.26 236.62 C453.7 237.49 466.15 236.36 491.04 237.01 C515.93 237.65 574.01 239.91 590.6 240.49" fill="none" stroke="#4c4c4c" stroke-width="0.9" stroke-dasharray="7.4 1.7 1.4 1.7"/>
<path d="M341.7 230.23 V241.84 M339.3 230.23 H344.1 M339.3 241.84 H344.1" fill="none" stroke="#333" stroke-width="0.65"/>
<path d="M354.14 220.56 V238.75 M351.75 220.56 H356.54 M351.75 238.75 H356.54" fill="none" stroke="#333" stroke-width="0.65"/>
<path d="M366.59 206.63 V239.52 M364.19 206.63 H368.99 M364.19 239.52 H368.99" fill="none" stroke="#333" stroke-width="0.65"/>
<path d="M379.03 201.6 V240.3 M376.63 201.6 H381.43 M376.63 240.3 H381.43" fill="none" stroke="#333" stroke-width="0.65"/>
<path d="M391.48 209.34 V243 M389.08 209.34 H393.88 M389.08 243 H393.88" fill="none" stroke="#333" stroke-width="0.65"/>
<path d="M416.37 218.82 V244.75 M413.97 218.82 H418.77 M413.97 244.75 H418.77" fill="none" stroke="#333" stroke-width="0.65"/>
<path d="M441.26 224.62 V248.62 M438.86 224.62 H443.66 M438.86 248.62 H443.66" fill="none" stroke="#333" stroke-width="0.65"/>
<path d="M491.04 227.33 V246.68 M488.64 227.33 H493.44 M488.64 246.68 H493.44" fill="none" stroke="#333" stroke-width="0.65"/>
<path d="M590.6 229.85 V251.13 M588.2 229.85 H593 M588.2 251.13 H593" fill="none" stroke="#333" stroke-width="0.65"/>
<path d="M339.21 237.58 L344.19 237.58 L341.7 233.68Z" fill="#fff" stroke="#000" stroke-width="0.6"/>
<path d="M351.66 231.19 L356.63 231.19 L354.14 227.29Z" fill="#fff" stroke="#000" stroke-width="0.6"/>
<path d="M364.1 224.61 L369.07 224.61 L366.59 220.71Z" fill="#fff" stroke="#000" stroke-width="0.6"/>
<path d="M376.55 222.49 L381.52 222.49 L379.03 218.58Z" fill="#fff" stroke="#000" stroke-width="0.6"/>
<path d="M389 227.71 L393.97 227.71 L391.48 223.81Z" fill="#fff" stroke="#000" stroke-width="0.6"/>
<path d="M413.88 233.32 L418.86 233.32 L416.37 229.42Z" fill="#fff" stroke="#000" stroke-width="0.6"/>
<path d="M438.77 238.16 L443.75 238.16 L441.26 234.26Z" fill="#fff" stroke="#000" stroke-width="0.6"/>
<path d="M488.55 238.55 L493.52 238.55 L491.04 234.65Z" fill="#fff" stroke="#000" stroke-width="0.6"/>
<path d="M588.12 242.03 L593.09 242.03 L590.6 238.13Z" fill="#fff" stroke="#000" stroke-width="0.6"/>
<path d="M341.7 219.2 C343.77 218.2 350 214.24 354.14 213.21 C358.29 212.17 362.44 212.66 366.59 213.01 C370.74 213.37 374.89 214.46 379.03 215.33 C383.18 216.2 385.26 217.82 391.48 218.24 C397.7 218.66 408.07 217.4 416.37 217.85 C424.67 218.3 428.81 220.59 441.26 220.95 C453.7 221.3 466.15 219.3 491.04 219.98 C515.93 220.66 574.01 224.17 590.6 225.01" fill="none" stroke="#4c4c4c" stroke-width="0.9"/>
<path d="M341.7 210.5 V227.91 M339.3 210.5 H344.1 M339.3 227.91 H344.1" fill="none" stroke="#333" stroke-width="0.65"/>
<path d="M354.14 198.69 V227.72 M351.75 198.69 H356.54 M351.75 227.72 H356.54" fill="none" stroke="#333" stroke-width="0.65"/>
<path d="M366.59 195.6 V230.43 M364.19 195.6 H368.99 M364.19 230.43 H368.99" fill="none" stroke="#333" stroke-width="0.65"/>
<path d="M379.03 197.92 V232.75 M376.63 197.92 H381.43 M376.63 232.75 H381.43" fill="none" stroke="#333" stroke-width="0.65"/>
<path d="M391.48 200.82 V235.65 M389.08 200.82 H393.88 M389.08 235.65 H393.88" fill="none" stroke="#333" stroke-width="0.65"/>
<path d="M416.37 200.43 V235.26 M413.97 200.43 H418.77 M413.97 235.26 H418.77" fill="none" stroke="#333" stroke-width="0.65"/>
<path d="M441.26 203.53 V238.36 M438.86 203.53 H443.66 M438.86 238.36 H443.66" fill="none" stroke="#333" stroke-width="0.65"/>
<path d="M491.04 201.6 V238.36 M488.64 201.6 H493.44 M488.64 238.36 H493.44" fill="none" stroke="#333" stroke-width="0.65"/>
<path d="M590.6 207.59 V242.42 M588.2 207.59 H593 M588.2 242.42 H593" fill="none" stroke="#333" stroke-width="0.65"/>
<circle cx="341.7" cy="219.2" r="1.75" fill="#000"/>
<circle cx="354.14" cy="213.21" r="1.75" fill="#000"/>
<circle cx="366.59" cy="213.01" r="1.75" fill="#000"/>
<circle cx="379.03" cy="215.33" r="1.75" fill="#000"/>
<circle cx="391.48" cy="218.24" r="1.75" fill="#000"/>
<circle cx="416.37" cy="217.85" r="1.75" fill="#000"/>
<circle cx="441.26" cy="220.95" r="1.75" fill="#000"/>
<circle cx="491.04" cy="219.98" r="1.75" fill="#000"/>
<circle cx="590.6" cy="225.01" r="1.75" fill="#000"/>
<rect x="651.55" y="41.3" width="345.9" height="234.6" fill="none" stroke="#262626" stroke-width="0.95"/>
<line x1="648.15" y1="275.9" x2="651.55" y2="275.9" stroke="#262626" stroke-width="0.95"/>
<line x1="648.15" y1="249.83" x2="651.55" y2="249.83" stroke="#262626" stroke-width="0.95"/>
<line x1="648.15" y1="223.77" x2="651.55" y2="223.77" stroke="#262626" stroke-width="0.95"/>
<line x1="648.15" y1="197.7" x2="651.55" y2="197.7" stroke="#262626" stroke-width="0.95"/>
<line x1="648.15" y1="171.64" x2="651.55" y2="171.64" stroke="#262626" stroke-width="0.95"/>
<line x1="648.15" y1="145.57" x2="651.55" y2="145.57" stroke="#262626" stroke-width="0.95"/>
<line x1="648.15" y1="119.5" x2="651.55" y2="119.5" stroke="#262626" stroke-width="0.95"/>
<line x1="648.15" y1="93.44" x2="651.55" y2="93.44" stroke="#262626" stroke-width="0.95"/>
<line x1="648.15" y1="67.37" x2="651.55" y2="67.37" stroke="#262626" stroke-width="0.95"/>
<line x1="648.15" y1="41.31" x2="651.55" y2="41.31" stroke="#262626" stroke-width="0.95"/>
<line x1="651.55" y1="275.9" x2="651.55" y2="279.3" stroke="#262626" stroke-width="0.95"/>
<line x1="733.9" y1="275.9" x2="733.9" y2="279.3" stroke="#262626" stroke-width="0.95"/>
<line x1="816.25" y1="275.9" x2="816.25" y2="279.3" stroke="#262626" stroke-width="0.95"/>
<line x1="898.6" y1="275.9" x2="898.6" y2="279.3" stroke="#262626" stroke-width="0.95"/>
<line x1="980.95" y1="275.9" x2="980.95" y2="279.3" stroke="#262626" stroke-width="0.95"/>
<text x="644.6" y="279.07" font-family='"Liberation Sans", sans-serif' font-size="8.8" text-anchor="end" fill="#000">-4</text>
<text x="644.6" y="253" font-family='"Liberation Sans", sans-serif' font-size="8.8" text-anchor="end" fill="#000">-2</text>
<text x="644.6" y="226.94" font-family='"Liberation Sans", sans-serif' font-size="8.8" text-anchor="end" fill="#000">0</text>
<text x="644.6" y="200.87" font-family='"Liberation Sans", sans-serif' font-size="8.8" text-anchor="end" fill="#000">2</text>
<text x="644.6" y="174.8" font-family='"Liberation Sans", sans-serif' font-size="8.8" text-anchor="end" fill="#000">4</text>
<text x="644.6" y="148.74" font-family='"Liberation Sans", sans-serif' font-size="8.8" text-anchor="end" fill="#000">6</text>
<text x="644.6" y="122.67" font-family='"Liberation Sans", sans-serif' font-size="8.8" text-anchor="end" fill="#000">8</text>
<text x="644.6" y="96.61" font-family='"Liberation Sans", sans-serif' font-size="8.8" text-anchor="end" fill="#000">10</text>
<text x="644.6" y="70.54" font-family='"Liberation Sans", sans-serif' font-size="8.8" text-anchor="end" fill="#000">12</text>
<text x="644.6" y="44.47" font-family='"Liberation Sans", sans-serif' font-size="8.8" text-anchor="end" fill="#000">14</text>
<path d="M651.55 246.97 L668.02 226.37 L684.49 209.17 L700.96 190.53 L717.43 174.76 L750.37 152.61 L783.31 136.84 L849.19 112.73 L980.95 81.45" fill="none" stroke="#1a1a1a" stroke-width="0.9" stroke-dasharray="9 2.4 1.2 2.4"/>
<path d="M651.55 246.32 V247.62 M647.95 246.32 H655.15 M647.95 247.62 H655.15" fill="none" stroke="#111" stroke-width="0.85"/>
<path d="M668.02 225.33 V227.42 M664.42 225.33 H671.62 M664.42 227.42 H671.62" fill="none" stroke="#111" stroke-width="0.85"/>
<path d="M684.49 205.26 V213.08 M680.89 205.26 H688.09 M680.89 213.08 H688.09" fill="none" stroke="#111" stroke-width="0.85"/>
<path d="M700.96 186.62 V194.44 M697.36 186.62 H704.56 M697.36 194.44 H704.56" fill="none" stroke="#111" stroke-width="0.85"/>
<path d="M717.43 169.55 V179.98 M713.83 169.55 H721.03 M713.83 179.98 H721.03" fill="none" stroke="#111" stroke-width="0.85"/>
<path d="M750.37 148.7 V156.52 M746.77 148.7 H753.97 M746.77 156.52 H753.97" fill="none" stroke="#111" stroke-width="0.85"/>
<path d="M783.31 134.23 V139.44 M779.71 134.23 H786.91 M779.71 139.44 H786.91" fill="none" stroke="#111" stroke-width="0.85"/>
<path d="M849.19 110.12 V115.33 M845.59 110.12 H852.79 M845.59 115.33 H852.79" fill="none" stroke="#111" stroke-width="0.85"/>
<path d="M980.95 74.93 V87.96 M977.35 74.93 H984.55 M977.35 87.96 H984.55" fill="none" stroke="#111" stroke-width="0.85"/>
<circle cx="651.55" cy="246.97" r="2.6" fill="#000"/>
<circle cx="668.02" cy="226.37" r="2.6" fill="#000"/>
<circle cx="684.49" cy="209.17" r="2.6" fill="#000"/>
<circle cx="700.96" cy="190.53" r="2.6" fill="#000"/>
<circle cx="717.43" cy="174.76" r="2.6" fill="#000"/>
<circle cx="750.37" cy="152.61" r="2.6" fill="#000"/>
<circle cx="783.31" cy="136.84" r="2.6" fill="#000"/>
<circle cx="849.19" cy="112.73" r="2.6" fill="#000"/>
<circle cx="980.95" cy="81.45" r="2.6" fill="#000"/>
<path d="M651.55 251.14 L668.02 228.46 L684.49 214.38 L700.96 206.04 L717.43 195.88 L750.37 182.19 L783.31 173.46 L849.19 158.08 L980.95 118.33" fill="none" stroke="#1a1a1a" stroke-width="0.9" stroke-dasharray="9 2.4 1.2 2.4"/>
<path d="M651.55 250.49 V251.79 M647.95 250.49 H655.15 M647.95 251.79 H655.15" fill="none" stroke="#111" stroke-width="0.85"/>
<path d="M668.02 227.42 V229.5 M664.42 227.42 H671.62 M664.42 229.5 H671.62" fill="none" stroke="#111" stroke-width="0.85"/>
<path d="M684.49 213.08 V215.69 M680.89 213.08 H688.09 M680.89 215.69 H688.09" fill="none" stroke="#111" stroke-width="0.85"/>
<path d="M700.96 204.74 V207.35 M697.36 204.74 H704.56 M697.36 207.35 H704.56" fill="none" stroke="#111" stroke-width="0.85"/>
<path d="M717.43 194.57 V197.18 M713.83 194.57 H721.03 M713.83 197.18 H721.03" fill="none" stroke="#111" stroke-width="0.85"/>
<path d="M750.37 180.24 V184.15 M746.77 180.24 H753.97 M746.77 184.15 H753.97" fill="none" stroke="#111" stroke-width="0.85"/>
<path d="M783.31 170.85 V176.07 M779.71 170.85 H786.91 M779.71 176.07 H786.91" fill="none" stroke="#111" stroke-width="0.85"/>
<path d="M849.19 152.22 V163.95 M845.59 152.22 H852.79 M845.59 163.95 H852.79" fill="none" stroke="#111" stroke-width="0.85"/>
<path d="M980.95 111.16 V125.5 M977.35 111.16 H984.55 M977.35 125.5 H984.55" fill="none" stroke="#111" stroke-width="0.85"/>
<circle cx="651.55" cy="251.14" r="2.34" fill="#fff" stroke="#000" stroke-width="0.7"/>
<circle cx="668.02" cy="228.46" r="2.34" fill="#fff" stroke="#000" stroke-width="0.7"/>
<circle cx="684.49" cy="214.38" r="2.34" fill="#fff" stroke="#000" stroke-width="0.7"/>
<circle cx="700.96" cy="206.04" r="2.34" fill="#fff" stroke="#000" stroke-width="0.7"/>
<circle cx="717.43" cy="195.88" r="2.34" fill="#fff" stroke="#000" stroke-width="0.7"/>
<circle cx="750.37" cy="182.19" r="2.34" fill="#fff" stroke="#000" stroke-width="0.7"/>
<circle cx="783.31" cy="173.46" r="2.34" fill="#fff" stroke="#000" stroke-width="0.7"/>
<circle cx="849.19" cy="158.08" r="2.34" fill="#fff" stroke="#000" stroke-width="0.7"/>
<circle cx="980.95" cy="118.33" r="2.34" fill="#fff" stroke="#000" stroke-width="0.7"/>
<path d="M651.55 249.83 L668.02 230.28 L684.49 227.16 L700.96 219.6 L717.43 215.17 L750.37 203.31 L783.31 195.49 L849.19 178.15 L980.95 148.18" fill="none" stroke="#1a1a1a" stroke-width="0.9" stroke-dasharray="9 2.4 1.2 2.4"/>
<path d="M651.55 249.18 V250.49 M647.95 249.18 H655.15 M647.95 250.49 H655.15" fill="none" stroke="#111" stroke-width="0.85"/>
<path d="M668.02 229.24 V231.33 M664.42 229.24 H671.62 M664.42 231.33 H671.62" fill="none" stroke="#111" stroke-width="0.85"/>
<path d="M684.49 223.25 V231.07 M680.89 223.25 H688.09 M680.89 231.07 H688.09" fill="none" stroke="#111" stroke-width="0.85"/>
<path d="M700.96 215.69 V223.51 M697.36 215.69 H704.56 M697.36 223.51 H704.56" fill="none" stroke="#111" stroke-width="0.85"/>
<path d="M717.43 210.6 V219.73 M713.83 210.6 H721.03 M713.83 219.73 H721.03" fill="none" stroke="#111" stroke-width="0.85"/>
<path d="M750.37 198.74 V207.87 M746.77 198.74 H753.97 M746.77 207.87 H753.97" fill="none" stroke="#111" stroke-width="0.85"/>
<path d="M783.31 192.23 V198.74 M779.71 192.23 H786.91 M779.71 198.74 H786.91" fill="none" stroke="#111" stroke-width="0.85"/>
<path d="M849.19 176.85 V179.46 M845.59 176.85 H852.79 M845.59 179.46 H852.79" fill="none" stroke="#111" stroke-width="0.85"/>
<path d="M980.95 146.87 V149.48 M977.35 146.87 H984.55 M977.35 149.48 H984.55" fill="none" stroke="#111" stroke-width="0.85"/>
<path d="M648.04 247.62 L655.06 247.62 L651.55 252.95Z" fill="#000"/>
<path d="M664.51 228.07 L671.53 228.07 L668.02 233.4Z" fill="#000"/>
<path d="M680.98 224.95 L688 224.95 L684.49 230.28Z" fill="#000"/>
<path d="M697.45 217.39 L704.47 217.39 L700.96 222.72Z" fill="#000"/>
<path d="M713.92 212.96 L720.94 212.96 L717.43 218.29Z" fill="#000"/>
<path d="M746.86 201.1 L753.88 201.1 L750.37 206.43Z" fill="#000"/>
<path d="M779.8 193.28 L786.82 193.28 L783.31 198.61Z" fill="#000"/>
<path d="M845.68 175.94 L852.7 175.94 L849.19 181.27Z" fill="#000"/>
<path d="M977.44 145.97 L984.46 145.97 L980.95 151.3Z" fill="#000"/>
<path d="M651.55 250.88 L668.02 227.94 L684.49 214.91 L700.96 203.57 L717.43 193.79 L750.37 178.67 L783.31 164.86 L849.19 147.39 L980.95 114.81" fill="none" stroke="#1a1a1a" stroke-width="0.9" stroke-dasharray="9 2.4 1.2 2.4"/>
<path d="M651.55 250.22 V251.53 M647.95 250.22 H655.15 M647.95 251.53 H655.15" fill="none" stroke="#111" stroke-width="0.85"/>
<path d="M668.02 226.9 V228.98 M664.42 226.9 H671.62 M664.42 228.98 H671.62" fill="none" stroke="#111" stroke-width="0.85"/>
<path d="M684.49 213.6 V216.21 M680.89 213.6 H688.09 M680.89 216.21 H688.09" fill="none" stroke="#111" stroke-width="0.85"/>
<path d="M700.96 202.26 V204.87 M697.36 202.26 H704.56 M697.36 204.87 H704.56" fill="none" stroke="#111" stroke-width="0.85"/>
<path d="M717.43 192.49 V195.1 M713.83 192.49 H721.03 M713.83 195.1 H721.03" fill="none" stroke="#111" stroke-width="0.85"/>
<path d="M750.37 177.11 V180.24 M746.77 177.11 H753.97 M746.77 180.24 H753.97" fill="none" stroke="#111" stroke-width="0.85"/>
<path d="M783.31 163.56 V166.16 M779.71 163.56 H786.91 M779.71 166.16 H786.91" fill="none" stroke="#111" stroke-width="0.85"/>
<path d="M849.19 145.83 V148.96 M845.59 145.83 H852.79 M845.59 148.96 H852.79" fill="none" stroke="#111" stroke-width="0.85"/>
<path d="M980.95 112.21 V117.42 M977.35 112.21 H984.55 M977.35 117.42 H984.55" fill="none" stroke="#111" stroke-width="0.85"/>
<path d="M648.43 252.81 L654.67 252.81 L651.55 247.91Z" fill="#fff" stroke="#000" stroke-width="0.7"/>
<path d="M664.9 229.87 L671.14 229.87 L668.02 224.97Z" fill="#fff" stroke="#000" stroke-width="0.7"/>
<path d="M681.37 216.84 L687.61 216.84 L684.49 211.94Z" fill="#fff" stroke="#000" stroke-width="0.7"/>
<path d="M697.84 205.5 L704.08 205.5 L700.96 200.6Z" fill="#fff" stroke="#000" stroke-width="0.7"/>
<path d="M714.31 195.73 L720.55 195.73 L717.43 190.83Z" fill="#fff" stroke="#000" stroke-width="0.7"/>
<path d="M747.25 180.61 L753.49 180.61 L750.37 175.71Z" fill="#fff" stroke="#000" stroke-width="0.7"/>
<path d="M780.19 166.79 L786.43 166.79 L783.31 161.89Z" fill="#fff" stroke="#000" stroke-width="0.7"/>
<path d="M846.07 149.33 L852.31 149.33 L849.19 144.43Z" fill="#fff" stroke="#000" stroke-width="0.7"/>
<path d="M977.83 116.75 L984.07 116.75 L980.95 111.85Z" fill="#fff" stroke="#000" stroke-width="0.7"/>
<path d="M651.55 246.45 L668.02 225.85 L684.49 208.13 L700.96 189.23 L717.43 171.64 L750.37 150.78 L783.31 136.06 L849.19 115.46 L980.95 94.22" fill="none" stroke="#1a1a1a" stroke-width="0.9"/>
<path d="M651.55 245.79 V247.1 M647.95 245.79 H655.15 M647.95 247.1 H655.15" fill="none" stroke="#111" stroke-width="0.85"/>
<path d="M668.02 224.81 V226.9 M664.42 224.81 H671.62 M664.42 226.9 H671.62" fill="none" stroke="#111" stroke-width="0.85"/>
<path d="M684.49 204.22 V212.04 M680.89 204.22 H688.09 M680.89 212.04 H688.09" fill="none" stroke="#111" stroke-width="0.85"/>
<path d="M700.96 185.32 V193.14 M697.36 185.32 H704.56 M697.36 193.14 H704.56" fill="none" stroke="#111" stroke-width="0.85"/>
<path d="M717.43 166.42 V176.85 M713.83 166.42 H721.03 M713.83 176.85 H721.03" fill="none" stroke="#111" stroke-width="0.85"/>
<path d="M750.37 146.87 V154.69 M746.77 146.87 H753.97 M746.77 154.69 H753.97" fill="none" stroke="#111" stroke-width="0.85"/>
<path d="M783.31 133.45 V138.66 M779.71 133.45 H786.91 M779.71 138.66 H786.91" fill="none" stroke="#111" stroke-width="0.85"/>
<path d="M849.19 110.9 V120.03 M845.59 110.9 H852.79 M845.59 120.03 H852.79" fill="none" stroke="#111" stroke-width="0.85"/>
<path d="M980.95 84.84 V103.6 M977.35 84.84 H984.55 M977.35 103.6 H984.55" fill="none" stroke="#111" stroke-width="0.85"/>
<circle cx="651.55" cy="246.45" r="2.6" fill="#000"/>
<circle cx="668.02" cy="225.85" r="2.6" fill="#000"/>
<circle cx="684.49" cy="208.13" r="2.6" fill="#000"/>
<circle cx="700.96" cy="189.23" r="2.6" fill="#000"/>
<circle cx="717.43" cy="171.64" r="2.6" fill="#000"/>
<circle cx="750.37" cy="150.78" r="2.6" fill="#000"/>
<circle cx="783.31" cy="136.06" r="2.6" fill="#000"/>
<circle cx="849.19" cy="115.46" r="2.6" fill="#000"/>
<circle cx="980.95" cy="94.22" r="2.6" fill="#000"/>
<text x="10.5" y="18.7" font-family='"Liberation Sans", sans-serif' font-weight="bold" font-size="16.7" fill="#000">A</text>
<text x="311" y="18.3" font-family='"Liberation Sans", sans-serif' font-weight="bold" font-size="16.7" fill="#000">B</text>
<text x="2.6" y="175.7" font-family='"Liberation Sans", sans-serif' font-weight="bold" font-size="16.7" fill="#000">C</text>
<text x="311.4" y="180.6" font-family='"Liberation Sans", sans-serif' font-weight="bold" font-size="16.7" fill="#000">D</text>
<text x="600" y="22" font-family='"Liberation Sans", sans-serif' font-weight="bold" font-size="16.7" fill="#000">E</text>
<text x="39.8" y="314.3" font-family='"Liberation Sans", sans-serif' font-size="11" text-anchor="middle" fill="#000">0</text>
<text x="100" y="314.3" font-family='"Liberation Sans", sans-serif' font-size="11" text-anchor="middle" fill="#000">500</text>
<text x="165" y="314.3" font-family='"Liberation Sans", sans-serif' font-size="11" text-anchor="middle" fill="#000">1000</text>
<text x="227.2" y="314.3" font-family='"Liberation Sans", sans-serif' font-size="11" text-anchor="middle" fill="#000">1500</text>
<text x="281.4" y="314.3" font-family='"Liberation Sans", sans-serif' font-size="11" text-anchor="middle" fill="#000">2000</text>
<text x="345.4" y="314.3" font-family='"Liberation Sans", sans-serif' font-size="11" text-anchor="middle" fill="#000">0</text>
<text x="405.6" y="314.3" font-family='"Liberation Sans", sans-serif' font-size="11" text-anchor="middle" fill="#000">500</text>
<text x="470.7" y="314.3" font-family='"Liberation Sans", sans-serif' font-size="11" text-anchor="middle" fill="#000">1000</text>
<text x="532.4" y="314.3" font-family='"Liberation Sans", sans-serif' font-size="11" text-anchor="middle" fill="#000">1500</text>
<text x="587.4" y="314.3" font-family='"Liberation Sans", sans-serif' font-size="11" text-anchor="middle" fill="#000">2000</text>
<text x="653.2" y="293" font-family='"Liberation Sans", sans-serif' font-size="11" text-anchor="middle" fill="#000">0</text>
<text x="736.2" y="293" font-family='"Liberation Sans", sans-serif' font-size="11" text-anchor="middle" fill="#000">500</text>
<text x="819" y="293" font-family='"Liberation Sans", sans-serif' font-size="11" text-anchor="middle" fill="#000">1000</text>
<text x="901.5" y="293" font-family='"Liberation Sans", sans-serif' font-size="11" text-anchor="middle" fill="#000">1500</text>
<text x="983" y="293" font-family='"Liberation Sans", sans-serif' font-size="11" text-anchor="middle" fill="#000">2000</text>
<text x="109.4" y="333.8" font-family='"Liberation Serif", serif' font-size="11.5" fill="#000" stroke="#000" stroke-width="0.1">CO<tspan font-size="7.82" dy="2.07">2</tspan><tspan dy="-2.07"> concentration(umol·mol<tspan font-size="7.25" dy="-5.06">-1</tspan><tspan dy="5.06">)</tspan></tspan></text>
<text x="394.7" y="333.8" font-family='"Liberation Serif", serif' font-size="11.5" fill="#000" stroke="#000" stroke-width="0.1">CO<tspan font-size="7.82" dy="2.07">2</tspan><tspan dy="-2.07"> concentration(umol·mol<tspan font-size="7.25" dy="-5.06">-1</tspan><tspan dy="5.06">)</tspan></tspan></text>
<text x="772.6" y="317.4" font-family='"Liberation Serif", serif' font-size="11.5" fill="#000" stroke="#000" stroke-width="0.1">CO<tspan font-size="7.82" dy="2.07">2</tspan><tspan dy="-2.07"> concentration(umol·mol<tspan font-size="7.25" dy="-5.06">-1</tspan><tspan dy="5.06">)</tspan></tspan></text>
<text transform="translate(15.2 119.3) rotate(-90)" font-family='"Liberation Serif", serif' font-size="11.4" fill="#111" stroke="#111" stroke-width="0.1">WUE(umol mol<tspan font-size="7.01" dy="-4.75">-1</tspan><tspan dy="4.75">)</tspan></text>
<text transform="translate(314.8 110.4) rotate(-90)" font-family='"Liberation Serif", serif' font-size="11.8" fill="#111" stroke="#111" stroke-width="0.1">Tr(u mol m<tspan font-size="7.01" dy="-4.75">-2</tspan><tspan dy="4.75">s<tspan font-size="7.01" dy="-4.75">-1</tspan><tspan dy="4.75">)</tspan></tspan></text>
<text transform="translate(11.8 272.1) rotate(-90)" font-family='"Liberation Serif", serif' font-size="11.4" fill="#111" stroke="#111" stroke-width="0.1">Ci(umol mol<tspan font-size="7.01" dy="-4.75">-1</tspan><tspan dy="4.75">)</tspan></text>
<text transform="translate(315.8 274) rotate(-90)" font-family='"Liberation Serif", serif' font-size="11.5" fill="#111" stroke="#111" stroke-width="0.1">Gs(u mol m<tspan font-size="7.01" dy="-4.75">-2</tspan><tspan dy="4.75">s<tspan font-size="7.01" dy="-4.75">-1</tspan><tspan dy="4.75">)</tspan></tspan></text>
<text transform="translate(625.2 223.9) rotate(-90)" font-family='"Liberation Serif", serif' font-size="11.4" fill="#111" stroke="#111" stroke-width="0.1">Pn (μ μmol·m<tspan font-size="6.84" dy="-4.79">-2</tspan><tspan dy="4.79">·s<tspan font-size="6.84" dy="-4.79">-1</tspan><tspan dy="4.79"> CO<tspan font-size="7.75" dy="2.05">2</tspan><tspan dy="-2.05">)</tspan></tspan></tspan></text>
<line x1="191.6" y1="252.9" x2="221.6" y2="252.9" stroke="#4c4c4c" stroke-width="0.9" stroke-dasharray="6 2 1 1.7"/>
<circle cx="206.7" cy="252.9" r="1.75" fill="#000"/>
<text x="223.6" y="255.82" font-family='"Liberation Sans", sans-serif' font-style="italic" font-size="8.6" fill="#222">G. pendulum</text>
<line x1="191.6" y1="262.7" x2="221.6" y2="262.7" stroke="#4c4c4c" stroke-width="0.9" stroke-dasharray="6 2 1 1.7"/>
<circle cx="206.7" cy="262.7" r="1.36" fill="#fff" stroke="#000" stroke-width="0.6"/>
<text x="223.6" y="265.62" font-family='"Liberation Sans", sans-serif' font-style="italic" font-size="8.6" fill="#222">G. gnemon</text>
<line x1="191.6" y1="272.5" x2="221.6" y2="272.5" stroke="#4c4c4c" stroke-width="0.9" stroke-dasharray="6 2 1 1.7"/>
<path d="M203.86 271.01 L209.53 271.01 L206.7 274.77Z" fill="#000"/>
<text x="223.6" y="275.42" font-family='"Liberation Sans", sans-serif' font-style="italic" font-size="8.6" fill="#222">G. montanum</text>
<line x1="191.6" y1="282.2" x2="221.6" y2="282.2" stroke="#4c4c4c" stroke-width="0.9" stroke-dasharray="6 2 1 1.7"/>
<path d="M204.21 283.74 L209.19 283.74 L206.7 279.84Z" fill="#fff" stroke="#000" stroke-width="0.6"/>
<text x="223.6" y="285.12" font-family='"Liberation Sans", sans-serif' font-style="italic" font-size="8.6" fill="#222">G. luofuense</text>
<line x1="191.6" y1="291.9" x2="221.6" y2="291.9" stroke="#4c4c4c" stroke-width="0.9"/>
<circle cx="206.7" cy="291.9" r="1.75" fill="#000"/>
<text x="223.6" y="294.82" font-family='"Liberation Sans", sans-serif' font-style="italic" font-size="8.6" fill="#222">G. parvifolium</text>
<line x1="858.9" y1="212.5" x2="901.7" y2="212.5" stroke="#1a1a1a" stroke-width="0.9" stroke-dasharray="8.5 2.6 1.2 2.6"/>
<circle cx="880.3" cy="212.5" r="2.3" fill="#000"/>
<text x="919.5" y="215.63" font-family='"Liberation Sans", sans-serif' font-style="italic" font-size="9.2" fill="#111">G. pendulum</text>
<line x1="858.9" y1="222.8" x2="901.7" y2="222.8" stroke="#1a1a1a" stroke-width="0.9" stroke-dasharray="8.5 2.6 1.2 2.6"/>
<circle cx="880.3" cy="222.8" r="2.07" fill="#fff" stroke="#000" stroke-width="0.7"/>
<text x="919.5" y="225.93" font-family='"Liberation Sans", sans-serif' font-style="italic" font-size="9.2" fill="#111">G. gnemon</text>
<line x1="858.9" y1="233" x2="901.7" y2="233" stroke="#1a1a1a" stroke-width="0.9" stroke-dasharray="8.5 2.6 1.2 2.6"/>
<path d="M877.19 231.04 L883.4 231.04 L880.3 235.76Z" fill="#000"/>
<text x="919.5" y="236.13" font-family='"Liberation Sans", sans-serif' font-style="italic" font-size="9.2" fill="#111">G. montanum</text>
<line x1="858.9" y1="243.1" x2="901.7" y2="243.1" stroke="#1a1a1a" stroke-width="0.9" stroke-dasharray="8.5 2.6 1.2 2.6"/>
<path d="M877.54 244.81 L883.06 244.81 L880.3 240.48Z" fill="#fff" stroke="#000" stroke-width="0.7"/>
<text x="919.5" y="246.23" font-family='"Liberation Sans", sans-serif' font-style="italic" font-size="9.2" fill="#111">G. luofuense</text>
<line x1="858.9" y1="252.9" x2="901.7" y2="252.9" stroke="#1a1a1a" stroke-width="0.9"/>
<circle cx="880.3" cy="252.9" r="2.3" fill="#000"/>
<text x="919.5" y="256.03" font-family='"Liberation Sans", sans-serif' font-style="italic" font-size="9.2" fill="#111">G. parvifolium</text>
</svg>
</body></html>
